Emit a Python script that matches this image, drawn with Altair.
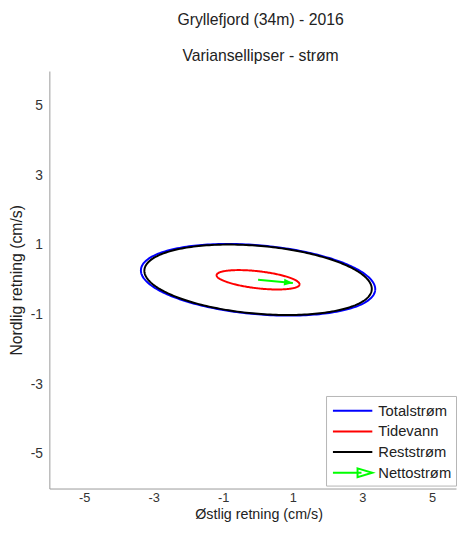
import numpy as np
import pandas as pd
import altair as alt

# ---- data ----
series = ["Totalstrøm", "Tidevann", "Reststrøm"]
semi_major = [3.38, 1.20, 3.28]      # cm/s
semi_minor = [0.99, 0.245, 0.975]    # cm/s
tilt_deg = [-5.0, -6.5, -5.0]        # orientation of major axis
colors = ["#0000ff", "#ff0000", "#000000"]

net_name = "Nettostrøm"
net_u = [0.0, 1.0]                   # net current vector (east)
net_v = [0.0, -0.09]                 # net current vector (north)
net_color = "#00ff00"

x_ticks = [-5, -3, -1, 1, 3, 5]
y_ticks = [-5, -3, -1, 1, 3, 5]

FONT = "Liberation Sans"

# ---- build tables ----
t = np.linspace(0, 2 * np.pi, 241)
rows = []
for s, a, b, th, c in zip(series, semi_major, semi_minor, tilt_deg, colors):
    r = np.radians(th)
    xs = a * np.cos(t) * np.cos(r) - b * np.sin(t) * np.sin(r)
    ys = a * np.cos(t) * np.sin(r) + b * np.sin(t) * np.cos(r)
    for i, (xx, yy) in enumerate(zip(xs, ys)):
        rows.append({"series": s, "i": i, "x": xx, "y": yy, "col": c})
ell = pd.DataFrame(rows)

arrow = pd.DataFrame({"x": net_u, "y": net_v, "i": [0, 1]})
head_angle = float(np.degrees(np.arctan2(-(net_v[1] - net_v[0]), net_u[1] - net_u[0]))) % 360
head = arrow.iloc[[1]]

all_names = series + [net_name]
all_colors = colors + [net_color]
legend_paths = ["M-2,0H2", "M-2,0H2", "M-2,0H2",
                "M-2,0H0.9 M0.5,-0.45L2,0L0.5,0.45Z"]
legend_df = pd.DataFrame({"series": all_names, "x": [np.nan] * 4, "y": [np.nan] * 4})

W, H = 413, 424
xs_scale = alt.Scale(domain=[-6, 5.69], nice=False, zero=False)
ys_scale = alt.Scale(domain=[-6, 6], nice=False, zero=False)

x_axis = alt.Axis(values=x_ticks, title="Østlig retning (cm/s)", grid=False, ticks=False,
                  domainColor="#9a9a9a", labelColor="#333333", titleColor="#222222",
                  labelFont=FONT, titleFont=FONT, labelFontSize=13, titleFontSize=14.5,
                  titleFontWeight="normal", labelPadding=3, titlePadding=3,
                  titleX=W / 2 + 6, labelExpr="'' + datum.value")
y_axis = alt.Axis(values=y_ticks, title="Nordlig retning (cm/s)", grid=False, ticks=False,
                  domainColor="#9a9a9a", labelColor="#333333", titleColor="#222222",
                  labelFont=FONT, titleFont=FONT, labelFontSize=14, titleFontSize=16,
                  titleFontWeight="normal", labelPadding=7, titlePadding=6,
                  labelExpr="'' + datum.value")

X = alt.X("x:Q", scale=xs_scale, axis=x_axis)
Y = alt.Y("y:Q", scale=ys_scale, axis=y_axis)

layers = []
for s in series:
    layers.append(
        alt.Chart(ell[ell["series"] == s]).mark_line(strokeWidth=2, clip=True).encode(
            x=X, y=Y, color=alt.Color("col:N", scale=None), order="i:Q")
    )

shaft = alt.Chart(arrow).mark_line(strokeWidth=2, color=net_color, clip=True).encode(
    x=X, y=Y, order="i:Q")
arrow_head = alt.Chart(head).mark_point(
    shape="M0,0L-1.8,-0.7L-1.8,0.7Z", filled=True, size=100, angle=head_angle,
    color=net_color, opacity=1, strokeWidth=0).encode(x=X, y=Y)

leg = alt.Legend(title=None, orient="none", legendX=281, legendY=330,
                 symbolSize=400, symbolStrokeWidth=2, symbolOffset=12, labelOffset=15,
                 padding=4, rowPadding=2, strokeColor="#b5b5b5", fillColor="white",
                 labelFont=FONT, labelFontSize=15, labelColor="#222222", cornerRadius=0)
legend_layer = alt.Chart(legend_df).mark_point(filled=False, opacity=1, strokeWidth=2).encode(
    x=X, y=Y,
    color=alt.Color("series:N", scale=alt.Scale(domain=all_names, range=all_colors), legend=leg),
    shape=alt.Shape("series:N", scale=alt.Scale(domain=all_names, range=legend_paths), legend=leg),
)

chart = alt.layer(*layers, shaft, arrow_head, legend_layer).properties(
    width=W, height=H,
    padding={"left": 0, "top": 0, "right": 0, "bottom": 0},
    title=alt.TitleParams("Gryllefjord (34m) - 2016", subtitle="Variansellipser - strøm",
                          font=FONT, subtitleFont=FONT, fontSize=16, subtitleFontSize=16,
                          fontWeight="normal", color="#222222", subtitleColor="#222222",
                          subtitlePadding=21, offset=7, anchor="middle", dx=8),
).configure_view(stroke=None)

chart.save("out.html", embed_options={"renderer": "svg", "actions": False})
